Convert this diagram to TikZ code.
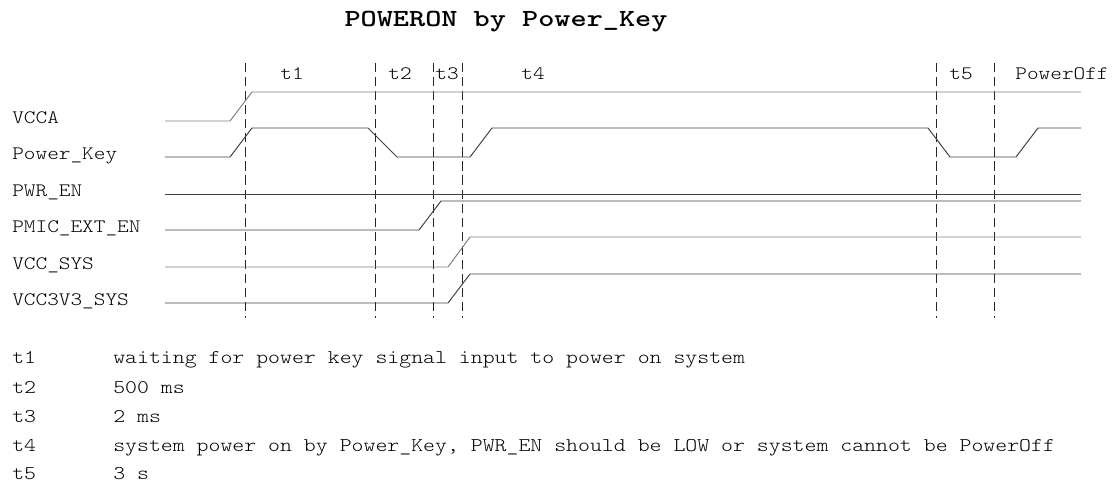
\documentclass[tikz,border=0pt]{standalone}
\usepackage{fontspec}
\newfontfamily\courtext[FakeStretch=1.17]{lmmonolt10-regular.otf}
\newfontfamily\courbold[FakeStretch=1.25]{lmmonolt10-bold.otf}
\usepackage{tikz}
\usetikzlibrary{positioning}

\begin{document}
\begin{tikzpicture}[
  x=0.025cm, y=-0.025cm,
  every node/.style={font=\courtext\fontsize{13.5}{16}\selectfont, inner sep=0pt, anchor=base west},
  sigtitle/.style={font=\courbold\fontsize{17.5}{21}\selectfont, anchor=base},
  legendtext/.style={font=\courtext\fontsize{13.8}{16}\selectfont},
  tlabel/.style={anchor=base},
  wavedark/.style={line width=0.7pt, black!75},
  wavelight/.style={line width=0.7pt, black!50},
  marker/.style={line width=0.6pt, black!85, dash pattern=on 6.5pt off 3.5pt}
]
  \useasboundingbox (0,0) rectangle (1118,486);

  % --- Titel ---
  \node[sigtitle] (title) at (506,27) {POWERON by Power\_Key};

  % --- Signalnamen ---
  \node (nVCCA)   at (12,123) {VCCA};
  \node (nPKEY)   at (12,159) {Power\_Key};
  \node (nPWREN)  at (12,196) {PWR\_EN};
  \node (nPMIC)   at (12,232) {PMIC\_EXT\_EN};
  \node (nVCCSYS) at (12,269) {VCC\_SYS};
  \node (nVCC3V3) at (12,305) {VCC3V3\_SYS};

  % --- Zeitmarken ---
  \foreach \x in {245,375,433,462,936,994}
    \draw[marker] (\x,63) -- (\x,318);

  \node[tlabel] (t1) at (292,79) {t1};
  \node[tlabel] (t2) at (400,79) {t2};
  \node[tlabel] (t3) at (447,79) {t3};
  \node[tlabel] (t4) at (533,79) {t4};
  \node[tlabel] (t5) at (961,79) {t5};
  \node[tlabel] (off) at (1062,79) {PowerOff};

  % --- Signalverlaeufe ---
  \draw[wavelight] (165,121) -- (230,121) -- (252,92) -- (1081,92);
  \draw[wavedark]  (165,157) -- (230,157) -- (252,128) -- (368,128) -- (397,157)
                   -- (470,157) -- (492,128) -- (928,128) -- (950,157)
                   -- (1016,157) -- (1038,128) -- (1081,128);
  \draw[wavedark]  (165,194) -- (1081,194);
  \draw[wavedark]  (165,230) -- (419,230) -- (441,201) -- (1081,201);
  \draw[wavelight] (165,267) -- (448,267) -- (470,237) -- (1081,237);
  \draw[wavedark]  (165,303) -- (448,303) -- (470,274) -- (1081,274);

  % --- Legende ---
  \node[legendtext] (l1) at (12,363) {t1};
  \node[legendtext] (l2) at (12,393) {t2};
  \node[legendtext] (l3) at (12,422) {t3};
  \node[legendtext] (l4) at (12,451) {t4};
  \node[legendtext] (l5) at (12,479) {t5};
  \node[legendtext] (d1) at (113,363) {waiting for power key signal input to power on system};
  \node[legendtext] (d2) at (113,393) {500 ms};
  \node[legendtext] (d3) at (113,422) {2 ms};
  \node[legendtext] (d4) at (113,451) {system power on by Power\_Key, PWR\_EN should be LOW or system cannot be PowerOff};
  \node[legendtext] (d5) at (113,479) {3 s};
\end{tikzpicture}
\end{document}
